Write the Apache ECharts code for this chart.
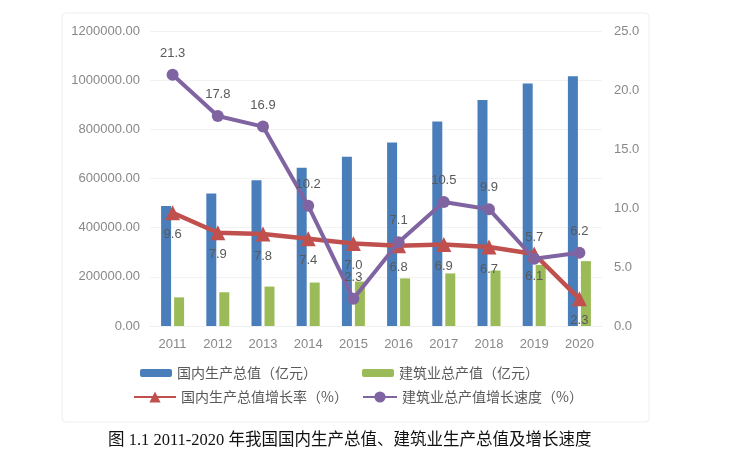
<!DOCTYPE html>
<html><head><meta charset="utf-8">
<script src="https://cdn.jsdelivr.net/npm/echarts@6/dist/echarts.min.js"></script>
<style>html,body{margin:0;padding:0;background:#fff}#c{width:732px;height:454px}</style>
</head><body><div id="c"></div>
<script>
const years = ['2011','2012','2013','2014','2015','2016','2017','2018','2019','2020'];
const gdp = [487940, 538580, 592963, 643563, 688858, 746395, 832036, 919281, 986515, 1015986];
const construction = [116463, 137218, 160366, 176713, 180757, 193567, 213944, 225817, 248443, 263947];
const gdpGrowth = [9.6, 7.9, 7.8, 7.4, 7.0, 6.8, 6.9, 6.7, 6.1, 2.3];
const consGrowth = [21.3, 17.8, 16.9, 10.2, 2.3, 7.1, 10.5, 9.9, 5.7, 6.2];
const names = ['国内生产总值（亿元）','建筑业总产值（亿元）','国内生产总值增长率（%）','建筑业总产值增长速度（%）'];

const chart = echarts.init(document.getElementById('c'));
const txt = {color:'#595959', fontSize:14, fontFamily:'Noto Sans CJK SC'};
const lbl = {color:'#595959', fontSize:13, fontFamily:'Liberation Sans'};
chart.setOption({
  animation:false,
  backgroundColor:'#fff',
  graphic:[{type:'rect', shape:{x:62,y:13,width:587,height:409,r:4}, style:{fill:'none', stroke:'#eeeeee', lineWidth:1}, z:-1},
    {type:'text', left:108, top:432, style:{text:'图 1.1 2011-2020 年我国国内生产总值、建筑业生产总值及增长速度', fill:'#111', font:'16.5px "Liberation Serif","Noto Sans CJK SC"'}}],
  grid:{left:150, right:130, top:31, bottom:128},
  legend:[
    {data:[names[0]], left:140, top:366, padding:0, itemWidth:32, itemHeight:8, itemGap:5, textStyle:txt},
    {data:[names[1]], left:362, top:366, padding:0, itemWidth:32, itemHeight:8, itemGap:5, textStyle:txt},
    {data:[names[2]], left:133, top:390, padding:0, itemWidth:42, itemHeight:14, itemGap:2, textStyle:txt},
    {data:[names[3]], left:362, top:390, padding:0, itemWidth:34, itemHeight:14, itemGap:2, textStyle:txt}
  ],
  xAxis:{type:'category', data:years, axisLine:{show:true, lineStyle:{color:'#f0f0f0'}}, axisTick:{show:false},
    axisLabel:{color:'#888', fontSize:13, margin:12, fontFamily:'Liberation Sans'}},
  yAxis:[
    {type:'value', min:0, max:1200000, interval:200000, axisLine:{show:false}, axisTick:{show:false},
     splitLine:{lineStyle:{color:'#f2f2f2'}},
     axisLabel:{color:'#888', fontSize:13, margin:10, fontFamily:'Liberation Sans', formatter:v=>v.toFixed(2)}},
    {type:'value', min:0, max:25, interval:5, axisLine:{show:false}, axisTick:{show:false}, splitLine:{show:false},
     axisLabel:{color:'#888', fontSize:13, margin:12, fontFamily:'Liberation Sans', formatter:v=>v.toFixed(1)}}
  ],
  series:[
    {name:names[0], type:'bar', data:gdp, barWidth:10, barGap:'30%', itemStyle:{color:'#4a7ebb'}},
    {name:names[1], type:'bar', data:construction, barWidth:10, barGap:'30%', itemStyle:{color:'#9bbb59'}},
    {name:names[2], type:'line', yAxisIndex:1, data:gdpGrowth, symbol:'triangle', symbolSize:15, z:3,
     lineStyle:{color:'#c0504d', width:4.5}, itemStyle:{color:'#c0504d'},
     label:{show:true, position:'bottom', distance:8, formatter:p=>p.value.toFixed(1), ...lbl}},
    {name:names[3], type:'line', yAxisIndex:1, data:consGrowth, symbol:'circle', symbolSize:12, z:4,
     lineStyle:{color:'#8064a2', width:4}, itemStyle:{color:'#8064a2'},
     label:{show:true, position:'top', distance:9, formatter:p=>p.value.toFixed(1), ...lbl}}
  ]
});
</script></body></html>
